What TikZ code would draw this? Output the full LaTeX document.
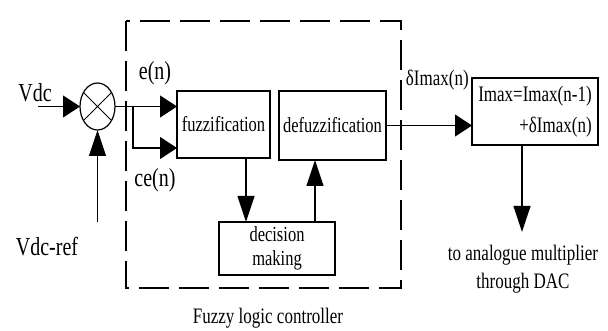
\documentclass[tikz,border=0pt]{standalone}
\usepackage{graphicx}
\usepackage{fontspec}
\setmainfont{Liberation Serif}
\usetikzlibrary{arrows.meta,shapes.geometric,calc}

\newcommand{\st}[1]{\scalebox{1}[1.3]{#1}}

\begin{document}
\begin{tikzpicture}[x=1pt,y=-1pt,line width=1.2pt,
    harr/.style={-{Triangle[length=17pt,width=22pt]}},
    varr/.style={-{Triangle[length=26pt,width=17pt]}},
    blk/.style={draw,outer sep=0pt,inner sep=2pt,font=\fontsize{16.5}{24}\selectfont},
    lbl/.style={font=\fontsize{20}{24}\selectfont},
    txt/.style={font=\fontsize{17}{28}\selectfont}]
    \useasboundingbox (0,0) rectangle (608,331);
    % summing junction
    \node[ellipse,draw,minimum width=35pt,minimum height=47pt,inner sep=0pt,outer sep=0pt] (sum) at (97.5,106.5) {};
    \draw[line width=1pt] (sum.45) -- (sum.225) (sum.135) -- (sum.315);
    % blocks
    \node[blk,minimum width=93pt,minimum height=67pt] (fuzz) at (223.5,124.5) {\st{fuzzification}};
    \node[blk,minimum width=107pt,minimum height=69pt] (defuzz) at (332.5,125.5) {\st{defuzzification}};
    \node[blk,minimum width=116pt,minimum height=53pt,align=center] (dec) at (277,248.5) {\st{decision}\\\st{making}};
    \node[blk,minimum width=126pt,minimum height=67pt,align=right,font=\fontsize{17}{31}\selectfont] (imax) at (535,111.5) {\st{Imax=Imax(n-1)}\\\st{+δImax(n)}};
    % fuzzy logic controller frame
    \draw[dash pattern=on 30pt off 10pt] (126,21) rectangle (401,288);
    % labels
    \node[lbl] (vdc) at (35,93) {\st{Vdc}};
    \node[lbl] (vdcref) at (47,247) {\st{Vdc-ref}};
    \node[lbl] (en) at (155,73) {\st{e(n)}};
    \node[lbl] (cen) at (155,180) {\st{ce(n)}};
    \node[txt,anchor=west] (dimax) at (402,80) {\st{δImax(n)}};
    \node[txt] (flc) at (268,318) {\st{Fuzzy logic controller}};
    \node[txt,align=center] (dac) at (523,269) {\st{to analogue multiplier}\\\st{through DAC}};
    % connectors
    \coordinate (vin) at (38,106.5);
    \coordinate (vref) at (97.5,222);
    \coordinate (br) at (133,106.5);
    \coordinate (cein) at (177,148);
    \coordinate (fd) at ([xshift=22.5pt]fuzz.south);
    \coordinate (du) at ([xshift=38pt]dec.north);
    \coordinate (io) at ([xshift=-13pt]imax.south);
    \coordinate (out) at (522,232);
    \draw[harr] (vin) -- (sum.west);
    \draw[varr] (vref) -- (sum.south);
    \draw[harr] (sum.east) -- (fuzz.west |- sum.east);
    \draw[harr] (br) |- (cein);
    \draw[varr] (fd) -- (fd |- dec.north);
    \draw[varr] (du) -- (du |- defuzz.south);
    \draw[harr] (defuzz.east) -- (imax.west |- defuzz.east);
    \draw[varr] (io) -- (out);
\end{tikzpicture}
\end{document}
